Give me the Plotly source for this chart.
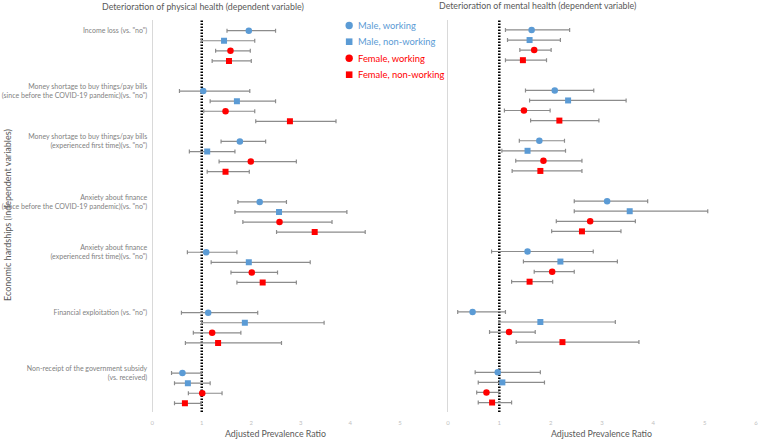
import plotly.graph_objects as go

# ---------------- data ----------------
hardships = [
    'Income loss (vs. "no")',
    'Money shortage to buy things/pay bills<br>(since before the COVID-19 pandemic)(vs. "no")',
    'Money shortage to buy things/pay bills<br>(experienced first time)(vs. "no")',
    'Anxiety about finance<br>(since before the COVID-19 pandemic)(vs. "no")',
    'Anxiety about finance<br>(experienced first time)(vs. "no")',
    'Financial exploitation (vs. "no")',
    'Non-receipt of the government subsidy<br>(vs. received)',
]
series = ["Male, working", "Male, non-working", "Female, working", "Female, non-working"]

# Physical health: estimate, lower CI, upper CI
phys_est = {
    "Male, working":       [1.95, 1.03, 1.77, 2.17, 1.09, 1.13, 0.61],
    "Male, non-working":   [1.45, 1.71, 1.11, 2.56, 1.95, 1.87, 0.72],
    "Female, working":     [1.58, 1.48, 1.99, 2.57, 2.01, 1.21, 1.01],
    "Female, non-working": [1.55, 2.78, 1.48, 3.28, 2.23, 1.33, 0.66],
}
phys_lo = {
    "Male, working":       [1.51, 0.55, 1.39, 1.73, 0.71, 0.59, 0.39],
    "Male, non-working":   [0.99, 1.17, 0.75, 1.67, 1.19, 1.00, 0.45],
    "Female, working":     [1.28, 1.04, 1.35, 1.83, 1.59, 0.83, 0.73],
    "Female, non-working": [1.21, 2.09, 1.11, 2.51, 1.71, 0.67, 0.45],
}
phys_hi = {
    "Male, working":       [2.49, 1.97, 2.29, 2.71, 1.71, 2.13, 1.00],
    "Male, non-working":   [2.07, 2.49, 1.67, 3.93, 3.19, 3.47, 1.17],
    "Female, working":     [1.98, 2.07, 2.91, 3.63, 2.53, 1.79, 1.41],
    "Female, non-working": [2.00, 3.71, 1.96, 4.30, 2.91, 2.61, 0.99],
}

# Mental health
ment_est = {
    "Male, working":       [1.63, 2.08, 1.78, 3.10, 1.55, 0.48, 0.97],
    "Male, non-working":   [1.59, 2.34, 1.55, 3.54, 2.19, 1.80, 1.06],
    "Female, working":     [1.68, 1.48, 1.86, 2.77, 2.03, 1.19, 0.75],
    "Female, non-working": [1.46, 2.17, 1.80, 2.61, 1.59, 2.23, 0.86],
}
ment_lo = {
    "Male, working":       [1.12, 1.51, 1.39, 2.46, 0.85, 0.19, 0.53],
    "Male, non-working":   [1.16, 1.59, 1.05, 2.46, 1.47, 0.99, 0.59],
    "Female, working":     [1.40, 1.10, 1.32, 2.11, 1.68, 0.81, 0.56],
    "Female, non-working": [1.12, 1.61, 1.25, 2.02, 1.24, 1.33, 0.59],
}
ment_hi = {
    "Male, working":       [2.37, 2.84, 2.27, 3.89, 2.83, 1.12, 1.80],
    "Male, non-working":   [2.19, 3.47, 2.29, 5.06, 3.30, 3.26, 1.88],
    "Female, working":     [2.01, 1.99, 2.61, 3.65, 2.46, 1.70, 0.99],
    "Female, non-working": [1.92, 2.94, 2.61, 3.37, 2.04, 3.72, 1.24],
}

left_ticks = [0, 1, 2, 3, 4, 5]
right_ticks = [0, 1, 2, 3, 4, 5, 6]

# ---------------- layout / styles ----------------
BLUE = "#5B9BD5"
RED = "#FF0000"
style = {
    "Male, working":       (BLUE, "circle"),
    "Male, non-working":   (BLUE, "square"),
    "Female, working":     (RED, "circle"),
    "Female, non-working": (RED, "square"),
}
group_slots = [0, 6, 11, 17, 22, 28, 34]   # slot position of each group's first row
FONT = "Lato"
W, H = 761, 439

def row_positions(k):
    return [g + k for g in group_slots]

def px_x(p):
    return p / W

def px_y(p):
    return 1 - p / H

fig = go.Figure()
for panel, (est, lo, hi, xa, ya) in enumerate([
        (phys_est, phys_lo, phys_hi, "x", "y"),
        (ment_est, ment_lo, ment_hi, "x2", "y2")]):
    for k, s in enumerate(series):
        col, sym = style[s]
        e = est[s]
        fig.add_trace(go.Scatter(
            x=e, y=row_positions(k), xaxis=xa, yaxis=ya,
            mode="markers", name=s, showlegend=False,
            marker=dict(color=col, symbol=sym, size=6.5 if sym == "circle" else 6,
                        line=dict(width=0)),
            error_x=dict(type="data", symmetric=False,
                         array=[h - v for h, v in zip(hi[s], e)],
                         arrayminus=[v - l for l, v in zip(lo[s], e)],
                         color="#8c8c8c", thickness=1.2, width=2),
        ))

ydom = [px_y(412), px_y(20)]
axis_common = dict(showgrid=False, zeroline=True, zerolinecolor="#d9d9d9",
                   zerolinewidth=1, showline=False, ticks="",
                   ticklabelstandoff=6,
                   tickfont=dict(family=FONT, size=6, color="#bfbfbf"))
fig.update_layout(
    width=W, height=H, margin=dict(l=0, r=0, t=0, b=0),
    paper_bgcolor="white", plot_bgcolor="white",
    xaxis=dict(domain=[px_x(151), px_x(400)], range=[0, 5], tickvals=left_ticks,
               anchor="y", **axis_common),
    xaxis2=dict(domain=[px_x(448.3), px_x(758)], range=[0, 6], tickvals=right_ticks,
                anchor="y2", **axis_common),
    yaxis=dict(domain=ydom, range=[37.86, -1.06], anchor="x", showgrid=False,
               zeroline=False, showline=False, ticks="",
               tickvals=group_slots, ticktext=hardships,
               tickfont=dict(family=FONT, size=7, color="#7f7f7f"),
               ticklabelstandoff=4),
    yaxis2=dict(domain=ydom, range=[37.94, -0.99], anchor="x2", showgrid=False,
                zeroline=False, showline=False, showticklabels=False),
    showlegend=False,
)

for xr, yr in [("x", "y"), ("x2", "y2")]:
    fig.add_shape(type="line", xref=xr, yref=f"{yr} domain", x0=1, x1=1, y0=0, y1=1,
                  line=dict(color="black", width=2.5, dash="1.5px,1.5px"), layer="below")

# legend (drawn manually for the tight Excel-like spacing)
leg_rows = [25.5, 41.7, 58.3, 74.7]
for s, yy in zip(series, leg_rows):
    col, sym = style[s]
    r = 3.7 if sym == "circle" else 3.3
    fig.add_shape(type="circle" if sym == "circle" else "rect",
                  xref="paper", yref="paper",
                  x0=px_x(349 - r), x1=px_x(349 + r), y0=px_y(yy + r), y1=px_y(yy - r),
                  fillcolor=col, line=dict(width=0))
    fig.add_annotation(text=s, x=px_x(356), y=px_y(yy), xref="paper", yref="paper",
                       xanchor="left", yanchor="middle", showarrow=False,
                       font=dict(family=FONT, size=9.4, color=col))

ann_font = dict(family=FONT, color="#595959")
def label(text, x, y, size, angle=0):
    fig.add_annotation(text=text, x=px_x(x), y=px_y(y), xref="paper", yref="paper",
                       xanchor="center", yanchor="middle", showarrow=False,
                       textangle=angle, font=dict(size=size, **ann_font))

label("Deterioration of physical health (dependent variable)", 202, 7, 8.8)
label("Deterioration of mental health (dependent variable)", 538, 6, 8.8)
label("Adjusted Prevalence Ratio", 275, 433, 8.8)
label("Adjusted Prevalence Ratio", 603, 433, 8.8)
label("Economic hardships (independent variables)", 5, 215, 9, -90)

fig.write_html("out.html", config={"displayModeBar": False},
               post_script="document.body.style.margin='0';document.body.style.overflow='hidden';")
